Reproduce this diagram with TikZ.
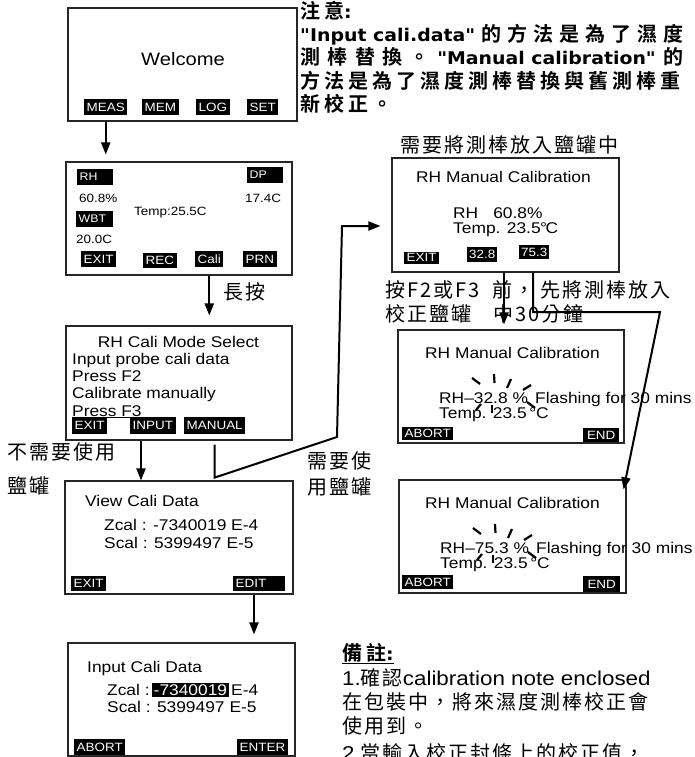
\documentclass[tikz,border=0pt]{standalone}
\usepackage{fontspec}
\usetikzlibrary{arrows.meta}
\newfontfamily\lcd[FakeStretch=1.12]{Liberation Sans}
\newfontfamily\cjk[LetterSpace=10]{Noto Sans CJK TC}
\newfontfamily\cjkb[LetterSpace=20]{Noto Sans CJK TC Bold}
\newfontfamily\latbf[FakeStretch=1.08]{DejaVu Sans Bold}
\def\fs#1{\fontsize{#1}{#1}\selectfont}
\def\latpart#1{{\fontsize{17.5}{17.5}\latbf\selectfont #1}}
\def\flashmarks(#1,#2){\begin{scope}[shift={(#1,#2)}, line width=2.2pt]
	\draw (33,-25) -- (41,-19);
	\draw (55,-29) -- (55.5,-20);
	\draw (72,-24) -- (68,-15);
	\draw (84,-13) -- (92,-18);
	\draw (88,-1) -- (96,5);
	\draw (42,1) -- (37,7);
	\draw (53,2) -- (53,10);
\end{scope}}

\tikzset{
	screen/.style={draw=black!85, line width=1.1pt, inner sep=0pt},
	skey/.style={fill=black, text=white, font=\lcd\fs{12}, inner xsep=2.5pt, inner ysep=0pt, minimum height=15pt, anchor=west},
	lcdtxt/.style={font=\lcd\fs{15.5}, inner sep=0pt, anchor=base west},
	smalltxt/.style={font=\lcd\fs{12}, inner sep=0pt, anchor=base west},
	cjklbl/.style={font=\cjk\fs{20}, inner sep=0pt, anchor=base west},
	notel/.style={font=\fs{20}, inner sep=0pt, anchor=base west},
	arr/.style={line width=2pt, -{Triangle[length=12pt,width=9pt]}},
}

\begin{document}
\begin{tikzpicture}[x=1pt, y=-1pt]
	\useasboundingbox (0,0) rectangle (694,757);
	
	%%%%% welcome screen %%%%%
	\node[screen, minimum width=229pt, minimum height=113pt] (welcome) at (182.5,64.5) {};
	\node[font=\lcd\fs{18}, inner sep=0pt, anchor=base] (wtext) at (183,66) {Welcome};
	\node[skey, minimum height=16pt] (kmeas) at (84,107) {MEAS};
	\node[skey, minimum height=16pt] (kmem) at (142,107) {MEM};
	\node[skey, minimum height=16pt] (klog) at (196,107) {LOG};
	\node[skey, minimum height=16pt] (kset) at (247,107) {SET};
	
	%%%%% measure screen %%%%%
	\node[screen, minimum width=226pt, minimum height=113pt] (measure) at (179,218.5) {};
	\node[skey, font=\lcd\fs{11}, text width=31pt, align=left, minimum height=16pt] (lrh) at (77,177) {RH};
	\node[smalltxt] (vrh) at (79,202) {60.8\%};
	\node[skey, font=\lcd\fs{11}, text width=31pt, align=left, minimum height=16pt] (ldp) at (247,175) {DP};
	\node[smalltxt] (vdp) at (245,202) {17.4C};
	\node[skey, font=\lcd\fs{11}, text width=32pt, align=left, minimum height=16pt] (lwbt) at (76,219) {WBT};
	\node[smalltxt] (vwbt) at (76,243) {20.0C};
	\node[smalltxt] (vtemp) at (134,215) {Temp:25.5C};
	\node[skey, minimum height=16pt] (kexit) at (81,259) {EXIT};
	\node[skey, minimum height=15pt] (krec) at (143,260) {REC};
	\node[skey, minimum height=16pt] (kcali) at (195,259) {Cali};
	\node[skey, minimum height=16pt] (kprn) at (243,259) {PRN};
	
	%%%%% mode select screen %%%%%
	\node[screen, minimum width=226pt, minimum height=114pt] (modesel) at (179,383) {};
	\node[lcdtxt, anchor=base] (mtitle) at (178.5,347) {RH Cali Mode Select};
	\node[lcdtxt] (mline1) at (72,364) {Input probe cali data};
	\node[lcdtxt] (mline2) at (72,381) {Press F2};
	\node[lcdtxt] (mline3) at (72,398) {Calibrate manually};
	\node[lcdtxt] (mline4) at (72,416) {\underline{Press F3}};
	\node[skey, minimum height=17pt] (kmexit) at (72,425.5) {EXIT};
	\node[skey, minimum height=17pt] (kinput) at (130,425.5) {INPUT};
	\node[skey, minimum height=17pt] (kmanual) at (184,425.5) {MANUAL};
	
	%%%%% view cali data %%%%%
	\node[screen, minimum width=228pt, minimum height=113pt] (viewcal) at (179,537.5) {};
	\node[lcdtxt] (vtitle) at (85,506) {View Cali Data};
	\node[lcdtxt] (vzcal) at (104,530) {Zcal : -7340019 E-4};
	\node[lcdtxt] (vscal) at (104,548) {Scal : 5399497\hspace{5pt}E-5};
	\node[skey] (kvexit) at (71,583.5) {EXIT};
	\node[skey, text width=47pt, align=left] (kedit) at (233,583.5) {EDIT};
	
	%%%%% input cali data %%%%%
	\node[screen, minimum width=227pt, minimum height=113pt] (inputcal) at (181.5,699.5) {};
	\node[lcdtxt] (ititle) at (87,672) {Input Cali Data};
	\node[lcdtxt] (izcal) at (107,695) {Zcal :\,{\setlength{\fboxsep}{1.5pt}\colorbox{black}{\textcolor{white}{-7340019}}}\,E-4};
	\node[lcdtxt] (iscal) at (107,712) {Scal : 5399497\hspace{5pt}E-5};
	\node[skey, minimum height=16pt] (kabort) at (74,747) {ABORT};
	\node[skey, minimum height=16pt] (kenter) at (237,747) {ENTER};
	
	%%%%% manual calibration %%%%%
	\node[cjklbl] (hint) at (400,152) {需要將測棒放入鹽罐中};
	\node[screen, minimum width=227pt, minimum height=114pt] (manual) at (505.5,215) {};
	\node[lcdtxt, anchor=base] (ctitle) at (503.5,182) {RH Manual Calibration};
	\node[lcdtxt] (crh) at (453,218) {RH\hspace{15pt}60.8\%};
	\node[lcdtxt] (ctemp) at (453,233) {Temp. 23.5\kern-0.5pt°\kern-1.5pt C};
	\node[skey, minimum height=12pt] (kcexit) at (404,257.5) {EXIT};
	\node[skey, minimum height=15pt, inner xsep=2pt] (klow) at (467,254.5) {32.8};
	\node[skey, minimum height=14pt, inner xsep=2pt] (khigh) at (519,252) {75.3};
	
	%%%%% flashing 32.8 %%%%%
	\node[screen, minimum width=226pt, minimum height=113pt] (flash1) at (511,386.5) {};
	\node[lcdtxt, anchor=base] (f1title) at (512.5,358) {RH Manual Calibration};
	\node[lcdtxt] (f1rh) at (439,403) {RH–32.8 \%};
	\node[lcdtxt] (f1msg) at (535,403) {Flashing for 30 mins};
	\node[lcdtxt] (f1temp) at (439,418) {Temp. 23.5\,°C};
	\flashmarks(439,403)
	\node[skey, minimum height=13pt] (kf1abort) at (402,433.5) {ABORT};
	\node[skey, minimum width=36pt, minimum height=14pt] (kf1end) at (583,435) {END};
	
	%%%%% flashing 75.3 %%%%%
	\node[screen, minimum width=227pt, minimum height=113pt] (flash2) at (512.5,536.5) {};
	\node[lcdtxt, anchor=base] (f2title) at (512.5,508) {RH Manual Calibration};
	\node[lcdtxt] (f2rh) at (440,553) {RH–75.3 \%};
	\node[lcdtxt] (f2msg) at (536,553) {Flashing for 30 mins};
	\node[lcdtxt] (f2temp) at (440,568) {Temp. 23.5\,°C};
	\flashmarks(440,553)
	\node[skey, minimum height=14pt] (kf2abort) at (402,582) {ABORT};
	\node[skey, minimum width=37pt, minimum height=16pt] (kf2end) at (583,584) {END};
	
	%%%%% labels %%%%%
	\node[cjklbl] (hold) at (223,299) {長按};
	\node[cjklbl] (nosalt1) at (7,459) {不需要使用};
	\node[cjklbl] (nosalt2) at (7,493) {鹽罐};
	\node[cjklbl] (salt1) at (307,468) {需要使};
	\node[cjklbl] (salt2) at (307,494) {用鹽罐};
	\node[cjklbl] (wait1) at (385,297) {按F2或F3};
	\node[cjklbl] (wait2) at (492,297) {前，};
	\node[cjklbl] (wait3) at (540,297) {先將測棒放入};
	\node[cjklbl] (wait4) at (385,321) {校正鹽罐};
	\node[cjklbl] (wait5) at (493,321) {中30分鐘};
	
	%%%%% notes (justified rows) %%%%%
	\node[notel] (note1) at (300,19) {\cjkb 注意\latpart{:}};
	\node[notel] (note2) at (300,42) {\cjkb\makebox[383pt][s]{\latpart{"Input cali.data"}\hfill 的\hfill 方\hfill 法\hfill 是\hfill 為\hfill 了\hfill 濕\hfill 度}};
	\node[notel] (note3) at (300,65) {\cjkb\makebox[383pt][s]{測\hfill 棒\hfill 替\hfill 換\hfill 。\hfill\latpart{"Manual calibration"}\hfill 的}};
	\node[notel] (note4) at (300,89) {\cjkb 方法是為了濕度測棒替換與舊測棒重};
	\node[notel] (note5) at (300,112) {\cjkb 新校正。};
	
	\node[notel] (remhead) at (342,660) {\cjkb 備註\latpart{:}};
	\draw[line width=1.3pt] ([yshift=-3.5pt]remhead.base west) -- ([yshift=-3.5pt]remhead.base east);
	\node[notel] (rem1) at (342,685) {\lcd 1.\cjk 確認\lcd calibration note enclosed};
	\node[notel, font=\cjk\fs{20}] (rem2) at (342,709) {在包裝中，將來濕度測棒校正會};
	\node[notel, font=\cjk\fs{20}] (rem3) at (342,733) {使用到。};
	\node[notel, font=\cjk\fs{20}] (rem4) at (342,760) {{\lcd 2.}當輸入校正封條上的校正值，};
	
	%%%%% connectors %%%%%
	\coordinate (bend1) at (337,437);
	\coordinate (bend2) at (342,226);
	\coordinate (bend3) at (660,312);
	
	\draw[arr] (welcome.south -| kmeas) -- ([yshift=7pt]measure.north -| kmeas);
	\draw[arr] (measure.south -| kcali) -- ([yshift=10pt]modesel.north -| kcali);
	\draw[arr] ([xshift=-38pt]modesel.south) -- ([xshift=-38pt]modesel.south |- viewcal.north);
	\draw[arr] ([yshift=-4pt]modesel.south -| kmanual) -- ++(0,33) -- (bend1) -- (bend2) -- ([shift={(-11pt,-11pt)}]manual.west);
	\draw[arr] ([xshift=-1.5pt]manual.south) -- ([shift={(-1.5pt,5pt)}]manual.south |- flash1.north);
	\draw[arr] ([xshift=27.5pt]manual.south) |- (bend3) -- ([shift={(-3pt,-10pt)}]flash2.north east);
	\draw[arr] ([xshift=75pt]viewcal.south) -- ([shift={(75pt,8pt)}]viewcal.south |- inputcal.north);
	
\end{tikzpicture}
\end{document}
